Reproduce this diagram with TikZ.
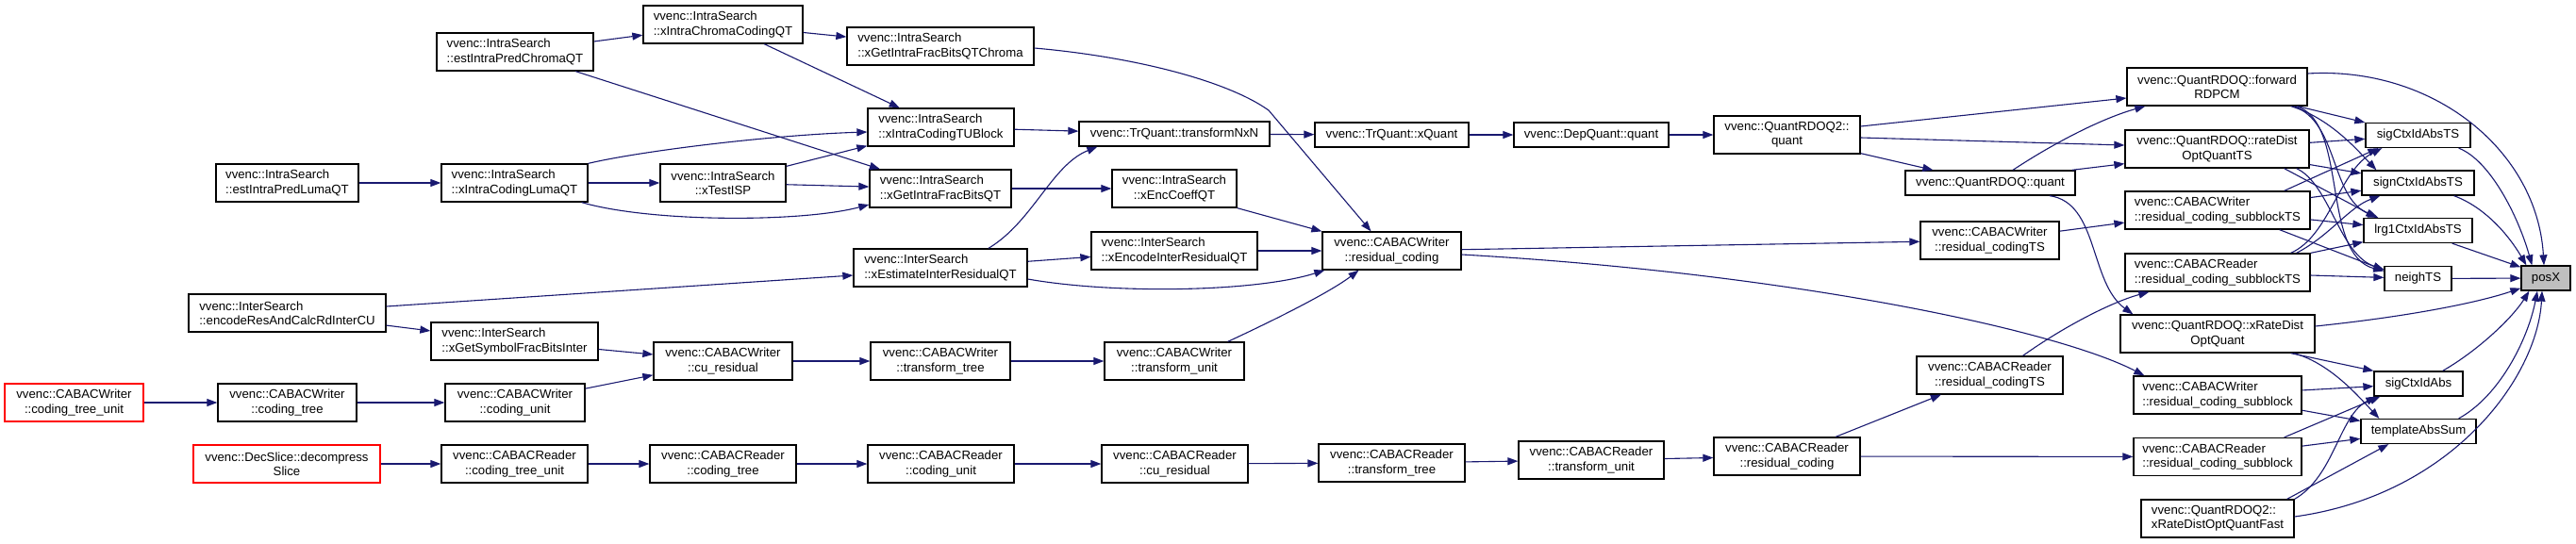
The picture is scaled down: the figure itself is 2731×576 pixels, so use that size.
\documentclass[tikz,border=0pt]{standalone}
\usepackage{fontspec}
\setmainfont{Liberation Sans}
\usetikzlibrary{arrows.meta,calc}
\definecolor{edgeblue}{HTML}{191970}
\definecolor{posfill}{HTML}{BFBFBF}
\begin{document}
\begin{tikzpicture}[x=1pt,y=-1pt,
  fn/.style={draw=black, fill=white, line width=1.3pt, inner sep=0pt, font=\fontsize{13.2}{15.3}\selectfont, text=black},
  fnl/.style={fn, align=left},
  fnc/.style={fn, align=center},
  redbox/.style={draw=red},
  edge/.style={draw=edgeblue, line width=1.1pt, -{Triangle[length=11pt,width=8pt]}}]
\fill[white] (0,0) rectangle (2731,576);
\useasboundingbox (0,0) rectangle (2731,576);
% nodes
\node[fnl, minimum width=166pt, minimum height=40pt] (A) at (546,55) {vvenc::IntraSearch\\::estIntraPredChromaQT};
\node[fnl, minimum width=169pt, minimum height=40pt] (B) at (766.5,26) {vvenc::IntraSearch\\::xIntraChromaCodingQT};
\node[fnl, minimum width=198pt, minimum height=40pt] (C) at (997,49) {vvenc::IntraSearch\\::xGetIntraFracBitsQTChroma};
\node[fnl, minimum width=151pt, minimum height=40pt] (D) at (304.5,194) {vvenc::IntraSearch\\::estIntraPredLumaQT};
\node[fnl, minimum width=155pt, minimum height=40pt] (E) at (545.5,194) {vvenc::IntraSearch\\::xIntraCodingLumaQT};
\node[fnc, minimum width=133pt, minimum height=40pt] (F) at (766.5,194) {vvenc::IntraSearch\\::xTestISP};
\node[fnl, minimum width=155pt, minimum height=40pt] (G) at (997.5,135) {vvenc::IntraSearch\\::xIntraCodingTUBlock};
\node[fnl, minimum width=150pt, minimum height=40pt] (H) at (997,200) {vvenc::IntraSearch\\::xGetIntraFracBitsQT};
\node[fnc, minimum width=202pt, minimum height=26pt] (I) at (1245,142) {vvenc::TrQuant::transformNxN};
\node[fnc, minimum width=132pt, minimum height=40pt] (J) at (1245,200) {vvenc::IntraSearch\\::xEncCoeffQT};
\node[fnl, minimum width=176pt, minimum height=40pt] (K) at (1245,266) {vvenc::InterSearch\\::xEncodeInterResidualQT};
\node[fnl, minimum width=184pt, minimum height=40pt] (L) at (997,284) {vvenc::InterSearch\\::xEstimateInterResidualQT};
\node[fnl, minimum width=209pt, minimum height=40pt] (M) at (304.5,332) {vvenc::InterSearch\\::encodeResAndCalcRdInterCU};
\node[fnl, minimum width=177pt, minimum height=40pt] (N) at (545.5,362) {vvenc::InterSearch\\::xGetSymbolFracBitsInter};
\node[fnc, redbox, minimum width=147pt, minimum height=40pt] (O) at (78.5,427) {vvenc::CABACWriter\\::coding\_tree\_unit};
\node[fnc, minimum width=147pt, minimum height=40pt] (P) at (304.5,427) {vvenc::CABACWriter\\::coding\_tree};
\node[fnc, minimum width=148pt, minimum height=40pt] (Q) at (546,427) {vvenc::CABACWriter\\::coding\_unit};
\node[fnc, minimum width=147pt, minimum height=40pt] (R) at (766.5,383) {vvenc::CABACWriter\\::cu\_residual};
\node[fnc, minimum width=148pt, minimum height=40pt] (S) at (997,383) {vvenc::CABACWriter\\::transform\_tree};
\node[fnc, minimum width=148pt, minimum height=40pt] (T) at (1245,383) {vvenc::CABACWriter\\::transform\_unit};
\node[fnc, redbox, minimum width=198pt, minimum height=40pt] (U) at (304,492) {vvenc::DecSlice::decompress\\Slice};
\node[fnc, minimum width=155pt, minimum height=40pt] (V) at (545.5,492) {vvenc::CABACReader\\::coding\_tree\_unit};
\node[fnc, minimum width=155pt, minimum height=40pt] (W) at (766.5,492) {vvenc::CABACReader\\::coding\_tree};
\node[fnc, minimum width=155pt, minimum height=40pt] (X) at (997.5,492) {vvenc::CABACReader\\::coding\_unit};
\node[fnc, minimum width=155pt, minimum height=40pt] (Y) at (1245.5,492) {vvenc::CABACReader\\::cu\_residual};
\node[fnc, minimum width=155pt, minimum height=40pt] (Z) at (1475.5,491) {vvenc::CABACReader\\::transform\_tree};
\node[fnc, minimum width=154pt, minimum height=40pt] (AA) at (1687,488) {vvenc::CABACReader\\::transform\_unit};
\node[fnc, minimum width=155pt, minimum height=40pt] (AB) at (1894.5,484) {vvenc::CABACReader\\::residual\_coding};
\node[fnc, minimum width=163pt, minimum height=26pt] (AC) at (1475.5,143) {vvenc::TrQuant::xQuant};
\node[fnc, minimum width=164pt, minimum height=26pt] (AD) at (1687,143) {vvenc::DepQuant::quant};
\node[fnc, minimum width=155pt, minimum height=40pt] (AE) at (1894.5,143) {vvenc::QuantRDOQ2::\\quant};
\node[fnc, minimum width=147pt, minimum height=40pt] (AF) at (1475.5,266) {vvenc::CABACWriter\\::residual\_coding};
\node[fnc, minimum width=180pt, minimum height=26pt] (AG) at (2110,194) {vvenc::QuantRDOQ::quant};
\node[fnc, minimum width=147pt, minimum height=40pt] (AH) at (2109.5,255) {vvenc::CABACWriter\\::residual\_codingTS};
\node[fnc, minimum width=155pt, minimum height=40pt] (AI) at (2109.5,398) {vvenc::CABACReader\\::residual\_codingTS};
\node[fnc, minimum width=191pt, minimum height=40pt] (AJ) at (2350.5,92) {vvenc::QuantRDOQ::forward\\RDPCM};
\node[fnc, minimum width=195pt, minimum height=40pt] (AK) at (2350.5,158) {vvenc::QuantRDOQ::rateDist\\OptQuantTS};
\node[fnl, minimum width=196pt, minimum height=40pt] (AL) at (2351,223) {vvenc::CABACWriter\\::residual\_coding\_subblockTS};
\node[fnl, minimum width=196pt, minimum height=40pt] (AM) at (2351,289) {vvenc::CABACReader\\::residual\_coding\_subblockTS};
\node[fnc, minimum width=206pt, minimum height=40pt] (AN) at (2351,354) {vvenc::QuantRDOQ::xRateDist\\OptQuant};
\node[fnl, minimum width=178pt, minimum height=40pt] (AO) at (2351,419) {vvenc::CABACWriter\\::residual\_coding\_subblock};
\node[fnl, minimum width=178pt, minimum height=40pt] (AP) at (2351,484.5) {vvenc::CABACReader\\::residual\_coding\_subblock};
\node[fnl, minimum width=162pt, minimum height=40pt] (AQ) at (2351,550) {vvenc::QuantRDOQ2::\\xRateDistOptQuantFast};
\node[fnc, minimum width=111pt, minimum height=26pt] (AR) at (2563.5,143.5) {sigCtxIdAbsTS};
\node[fnc, minimum width=119pt, minimum height=26pt] (AS) at (2563.5,194) {signCtxIdAbsTS};
\node[fnc, minimum width=115pt, minimum height=26pt] (AT) at (2563.5,244.5) {lrg1CtxIdAbsTS};
\node[fnc, minimum width=71pt, minimum height=26pt] (AU) at (2563.5,295.5) {neighTS};
\node[fnc, minimum width=94pt, minimum height=26pt] (AV) at (2564,407) {sigCtxIdAbs};
\node[fnc, minimum width=122pt, minimum height=26pt] (AW) at (2564,457.5) {templateAbsSum};
\node[fnc, fill=posfill, minimum width=52pt, minimum height=26pt] (AX) at (2699,295) {posX};
% edges left part
\draw[edge] (A) -- (B);
\draw[edge] (A) -- (H);
\draw[edge] (B) -- (C);
\draw[edge] (B) -- (G);
\draw[edge] (D) -- (E);
\draw[edge] (E.north east) .. controls (680,160) and (820,143) .. ($(G.west)+(0,5)$);
\draw[edge] (E) -- (F);
\draw[edge] ($(E.south east)+(-7,0)$) .. controls (690,236) and (850,236) .. ($(H.west)+(0,17)$);
\draw[edge] ($(F.north east)+(0,3)$) -- ($(G.south west)+(0,-1)$);
\draw[edge] (F) -- (H);
\draw[edge] (G) -- (I);
\draw[edge] (H) -- (J);
\draw[edge] ($(C.east)+(0,2)$) .. controls (1200,60) and (1300,85) .. (1345,117) -- ($(AF.north)+(-22,0)$);
\draw[edge] (J.south east) -- (AF.north west);
\draw[edge] ($(L.north)+(51,0)$) .. controls (1095,235) and (1115,175) .. ($(I.south west)+(20,0)$);
\draw[edge] (L) -- (K);
\draw[edge] ($(L.east)+(0,12)$) .. controls (1180,312) and (1330,310) .. ($(AF.south west)+(3,0)$);
\draw[edge] (K) -- (AF);
\draw[edge] ($(M.east)+(0,-7)$) -- ($(L.west)+(0,8)$);
\draw[edge] (M) -- (N);
\draw[edge] (N) -- (R);
\draw[edge] (Q) -- (R);
\draw[edge] (O) -- (P);
\draw[edge] (P) -- (Q);
\draw[edge] (R) -- (S);
\draw[edge] (S) -- (T);
\draw[edge] ($(T.north east)+(-18,0)$) .. controls (1350,340) and (1410,310) .. ($(AF.south)+(-35,0)$);
\draw[edge] (I) -- (AC);
\draw[edge] (AC) -- (AD);
\draw[edge] (AD) -- (AE);
\draw[edge] ($(AE.east)+(0,-9)$) -- ($(AJ.west)+(0,12)$);
\draw[edge] ($(AE.east)+(0,3)$) -- ($(AK.west)+(0,-4)$);
\draw[edge] ($(AE.south east)+(0,-1)$) -- ($(AG.north west)+(30,0)$);
\draw[edge] ($(AG.north)+(24,0)$) .. controls (2180,150) and (2230,125) .. ($(AJ.south west)+(20,0)$);
\draw[edge] ($(AG.north east)+(-4,0)$) -- ($(AK.south west)+(0,-5)$);
\draw[edge] ($(AG.south)+(63,0)$) .. controls (2225,215) and (2215,300) .. ($(AN.north west)+(14,0)$);
\draw[edge] (AF) -- (AH);
\draw[edge] ($(AF.east)+(0,4)$) .. controls (1900,290) and (2180,350) .. ($(AO.north west)+(12,0)$);
\draw[edge] (AH) -- (AL);
\draw[edge] (U) -- (V);
\draw[edge] (V) -- (W);
\draw[edge] (W) -- (X);
\draw[edge] (X) -- (Y);
\draw[edge] (Y) -- (Z);
\draw[edge] (Z) -- (AA);
\draw[edge] (AA) -- (AB);
\draw[edge] (AB) -- (AI);
\draw[edge] (AB) -- (AP);
\draw[edge] ($(AI.north)+(35,0)$) .. controls (2190,345) and (2240,320) .. ($(AM.south west)+(26,0)$);
% edges right cluster
\draw[edge] (AJ) -- (AR);
\draw[edge] ($(AJ.south east)+(-18,0)$) .. controls (2470,125) and (2500,160) .. ($(AS.north west)+(16,0)$);
\draw[edge] ($(AJ.south east)+(-15,0)$) .. controls (2480,130) and (2470,210) .. ($(AT.north west)+(16,0)$);
\draw[edge] ($(AJ.south east)+(-12,0)$) .. controls (2490,130) and (2460,270) .. ($(AU.west)+(0,-8)$);
\draw[edge] (AK) -- (AR);
\draw[edge] (AK) -- (AS);
\draw[edge] ($(AK.south east)+(-27,0)$) -- ($(AT.north west)+(14,0)$);
\draw[edge] ($(AK.south east)+(-14,0)$) .. controls (2470,195) and (2480,270) .. ($(AU.north west)+(0,4)$);
\draw[edge] ($(AL.north east)+(-28,0)$) -- ($(AR.south west)+(14,0)$);
\draw[edge] (AL) -- (AS);
\draw[edge] (AL) -- (AT);
\draw[edge] ($(AL.south east)+(-33,0)$) -- ($(AU.west)+(0,-9)$);
\draw[edge] ($(AM.north east)+(-21,0)$) .. controls (2470,250) and (2480,180) .. ($(AR.south west)+(18,0)$);
\draw[edge] ($(AM.north east)+(-15,0)$) .. controls (2470,250) and (2490,220) .. ($(AS.south west)+(20,0)$);
\draw[edge] (AM) -- (AT);
\draw[edge] (AM) -- (AU);
\draw[edge] ($(AR.south east)+(-13,0)$) .. controls (2640,170) and (2670,230) .. ($(AX.north west)+(12,0)$);
\draw[edge] ($(AS.south east)+(-22,0)$) .. controls (2635,220) and (2660,250) .. ($(AX.north west)+(6,0)$);
\draw[edge] ($(AT.south east)+(-22,0)$) -- ($(AX.north west)+(0,2)$);
\draw[edge] (AU) -- (AX);
\draw[edge] ($(AJ.east)+(0,-14)$) .. controls (2580,70) and (2690,160) .. ($(AX.north)+(-2,0)$);
\draw[edge] ($(AN.east)+(0,-8)$) .. controls (2560,335) and (2630,320) .. ($(AX.south west)+(0,-3)$);
\draw[edge] ($(AN.south east)+(-26,0)$) -- (AV.north west);
\draw[edge] ($(AN.south east)+(-23,0)$) .. controls (2470,385) and (2500,420) .. ($(AW.north west)+(20,0)$);
\draw[edge] (AO) -- (AV);
\draw[edge] (AO) -- (AW);
\draw[edge] ($(AP.north east)+(-19,0)$) -- ($(AV.south west)+(7,0)$);
\draw[edge] (AP) -- (AW);
\draw[edge] (AQ.north east) .. controls (2475,505) and (2480,440) .. ($(AV.south west)+(3,0)$);
\draw[edge] ($(AQ.north east)+(-8,0)$) -- ($(AW.south west)+(30,0)$);
\draw[edge] ($(AQ.east)+(0,-2)$) .. controls (2600,525) and (2690,400) .. ($(AX.south)+(-4,0)$);
\draw[edge] ($(AV.north east)+(-22,0)$) .. controls (2630,370) and (2665,335) .. ($(AX.south west)+(9,0)$);
\draw[edge] ($(AW.north east)+(-19,0)$) .. controls (2650,420) and (2680,360) .. ($(AX.south)+(-9,0)$);
\end{tikzpicture}
\end{document}
